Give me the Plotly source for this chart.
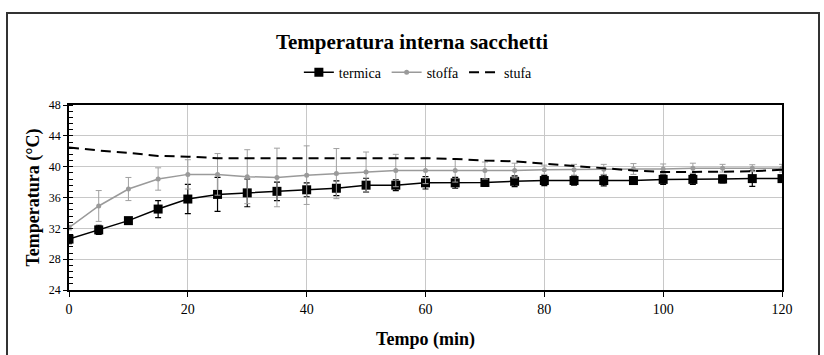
import plotly.graph_objects as go

tempo = [0, 5, 10, 15, 20, 25, 30, 35, 40, 45, 50, 55, 60, 65, 70, 75, 80, 85, 90, 95, 100, 105, 110, 115, 120]

termica = [30.6, 31.8, 33.0, 34.5, 35.8, 36.4, 36.6, 36.8, 37.0, 37.2, 37.6, 37.6, 37.9, 37.9, 37.95, 38.1, 38.2,
           38.2, 38.2, 38.2, 38.35, 38.35, 38.4, 38.45, 38.45]
termica_err = [0.6, 0.6, 0.2, 1.1, 1.9, 2.2, 1.8, 1.2, 0.9, 0.95, 0.9, 0.7, 0.8, 0.7, 0.5, 0.7, 0.65,
               0.6, 0.7, 0.45, 0.65, 0.65, 0.5, 1.0, 0.3]

stoffa = [32.1, 34.9, 37.1, 38.4, 39.0, 39.0, 38.7, 38.6, 38.9, 39.1, 39.3, 39.5, 39.5, 39.5, 39.5, 39.5, 39.6,
          39.6, 39.65, 39.7, 39.7, 39.8, 39.8, 39.8, 39.8]
stoffa_err = [0.3, 2.0, 1.5, 1.45, 1.9, 2.7, 3.5, 3.8, 3.8, 3.25, 2.6, 2.1, 1.7, 1.5, 1.1, 0.95, 0.6,
              0.7, 0.65, 0.7, 0.65, 0.65, 0.5, 0.45, 0.5]

stufa = [42.5, 42.1, 41.8, 41.4, 41.3, 41.1, 41.1, 41.1, 41.1, 41.1, 41.1, 41.1, 41.1, 41.0, 40.8, 40.7, 40.4,
         40.1, 39.75, 39.5, 39.3, 39.3, 39.35, 39.4, 39.6]

x_ticks = [0, 20, 40, 60, 80, 100, 120]
y_ticks = [24, 28, 32, 36, 40, 44, 48]

FONT = "Liberation Serif, Times New Roman, serif"

fig = go.Figure()

fig.add_trace(go.Scatter(
    x=tempo, y=termica, name="termica", mode="lines+markers",
    line=dict(color="black", width=1.5),
    marker=dict(symbol="square", size=9, color="black"),
    error_y=dict(type="data", array=termica_err, color="black", thickness=1.2, width=3),
))
fig.add_trace(go.Scatter(
    x=tempo, y=stoffa, name="stoffa", mode="lines+markers",
    line=dict(color="#9a9a9a", width=1.5),
    marker=dict(symbol="circle", size=5, color="#9a9a9a"),
    error_y=dict(type="data", array=stoffa_err, color="#a0a0a0", thickness=1, width=3),
))
fig.add_trace(go.Scatter(
    x=tempo, y=stufa, name="stufa", mode="lines",
    line=dict(color="black", width=2, dash="10px,6px"),
))

fig.update_layout(
    width=824, height=355,
    margin=dict(l=69, r=42, t=105, b=65, autoexpand=False),
    paper_bgcolor="white", plot_bgcolor="white",
    font=dict(family=FONT, color="black", size=12),
    title=dict(text="<b>Temperatura interna sacchetti</b>", x=0.5, xanchor="center",
               y=1 - 42 / 355, yanchor="middle", font=dict(size=21, family=FONT)),
    legend=dict(orientation="h", x=0.49, xanchor="center", y=1.175, yanchor="middle",
                font=dict(size=14, family=FONT), itemwidth=30, tracegroupgap=0),
    showlegend=True,
)

fig.update_xaxes(
    range=[0, 120], tickvals=x_ticks, ticktext=[str(v) for v in x_ticks],
    showgrid=True, gridcolor="#c8c8c8", gridwidth=1,
    showline=True, linecolor="black", linewidth=1.5, mirror=True,
    ticks="outside", ticklen=5, tickcolor="black", automargin=False,
    tickfont=dict(size=14, family=FONT), zeroline=False,
    title=dict(text="<b>Tempo (min)</b>", font=dict(size=18, family=FONT), standoff=17),
)
fig.update_yaxes(
    range=[24, 48], tickvals=y_ticks, ticktext=[str(v) for v in y_ticks],
    showgrid=True, gridcolor="#c8c8c8", gridwidth=1,
    showline=True, linecolor="black", linewidth=1.5, mirror=True,
    ticks="outside", ticklen=4, tickcolor="black", automargin=False,
    tickfont=dict(size=12, family=FONT), zeroline=False,
    minor=dict(dtick=0.8, ticks="inside", ticklen=4, tickcolor="black", showgrid=False),
    title=dict(text="<b>Temperatura (°C)</b>", font=dict(size=18, family=FONT), standoff=5),
)

# outer chart border
fig.add_shape(type="rect", xref="paper", yref="paper",
              x0=(7 - 69) / 713, x1=(819 - 69) / 713,
              y0=(290 - 362) / 185, y1=(290 - 13) / 185,
              line=dict(color="#333333", width=2), fillcolor="rgba(0,0,0,0)", layer="below")

fig.write_html("out.html", config={"displayModeBar": False},
               post_script="document.body.style.margin='0';")
